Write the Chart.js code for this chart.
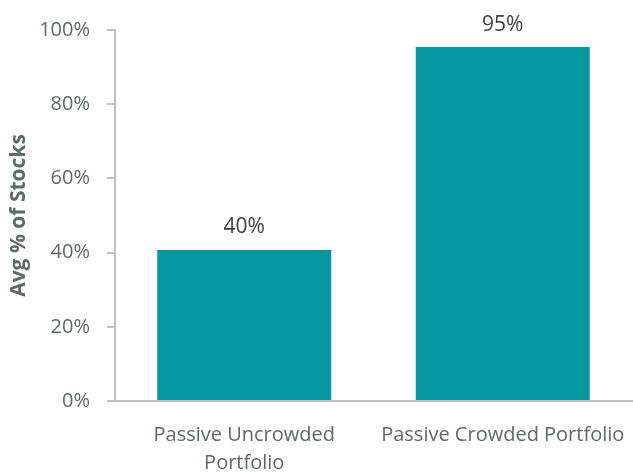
<!DOCTYPE html>
<html>
<head>
<meta charset="utf-8">
<script src="https://cdn.jsdelivr.net/npm/chart.js@4.4.0/dist/chart.umd.min.js"></script>
<style>
  html, body { margin: 0; padding: 0; background: #fff; }
  #wrap { width: 633px; height: 472px; }
</style>
</head>
<body>
<div id="wrap"><canvas id="chart"></canvas></div>
<script>
// Chart data
const categories = [['Passive Uncrowded', 'Portfolio'], 'Passive Crowded Portfolio'];
const values = [40.7, 95.4];
const valueLabels = ['40%', '95%'];
const yTicks = [0, 20, 40, 60, 80, 100];

const textGrey = '#5b6b69';
const axisGrey = '#bfbfbf';
const fontFamily = '"Open Sans", "Noto Sans", sans-serif';

// Simple label plugin to draw values above the bars
const barLabels = {
    id: 'barLabels',
    afterDatasetsDraw(chart) {
        const ctx = chart.ctx;
        const meta = chart.getDatasetMeta(0);
        ctx.save();
        ctx.fillStyle = '#404040';
        ctx.font = '21px ' + fontFamily;
        ctx.textAlign = 'center';
        ctx.textBaseline = 'bottom';
        meta.data.forEach((bar, i) => {
            ctx.fillText(valueLabels[i], bar.x, bar.y - 12);
        });
        ctx.restore();
    }
};

new Chart(document.getElementById('chart'), {
    type: 'bar',
    data: {
        labels: categories,
        datasets: [{
            data: values,
            backgroundColor: '#06969f',
            borderWidth: 0,
            categoryPercentage: 1,
            barPercentage: 0.673
        }]
    },
    options: {
        responsive: true,
        maintainAspectRatio: false,
        animation: false,
        layout: { padding: { top: 30, right: 1, left: 0, bottom: 0 } },
        plugins: {
            legend: { display: false },
            tooltip: { enabled: false }
        },
        scales: {
            y: {
                min: 0,
                max: 100,
                afterBuildTicks: (scale) => { scale.ticks = yTicks.map(v => ({ value: v })); },
                afterFit: (scale) => { scale.width = 115; },
                grid: {
                    drawOnChartArea: false,
                    drawTicks: true,
                    tickLength: 8,
                    color: axisGrey,
                    lineWidth: 2
                },
                border: { color: axisGrey, width: 2 },
                ticks: {
                    padding: 17,
                    color: textGrey,
                    font: { size: 20, family: fontFamily },
                    callback: (v) => v + '%'
                },
                title: {
                    display: true,
                    text: 'Avg % of Stocks',
                    color: textGrey,
                    font: { size: 21, weight: 'bold', family: fontFamily },
                    padding: { top: 6, bottom: 0 }
                }
            },
            x: {
                afterFit: (scale) => {
                    scale.height = 71;
                    scale.paddingLeft = 0;
                    scale.paddingRight = 0;
                },
                grid: { display: false, drawTicks: false },
                border: { color: axisGrey, width: 2 },
                ticks: {
                    padding: 20,
                    color: textGrey,
                    maxRotation: 0,
                    font: { size: 20, family: fontFamily, lineHeight: 1.4 }
                }
            }
        }
    },
    plugins: [barLabels]
});
</script>
</body>
</html>
